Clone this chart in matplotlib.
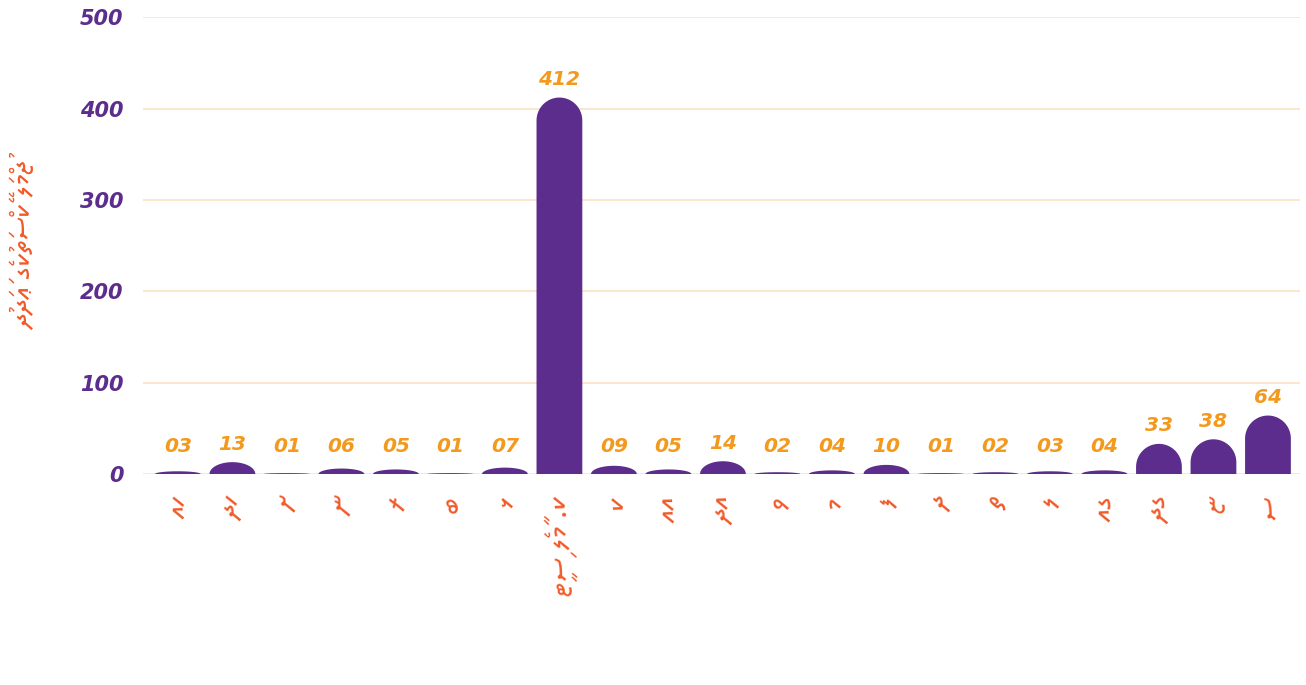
import matplotlib
matplotlib.use("Agg")
import matplotlib.pyplot as plt
from matplotlib.patches import Polygon
import numpy as np

categories = ["ހއ", "ހދ", "ށ", "ނ", "ރ", "ބ", "ޅ", "ކ. މާލެ ސިޓީ", "ކ", "އއ", "އދ",
              "ވ", "މ", "ފ", "ދ", "ތ", "ލ", "ގއ", "ގދ", "ޏ", "ސ"]
values = [3, 13, 1, 6, 5, 1, 7, 412, 9, 5, 14, 2, 4, 10, 1, 2, 3, 4, 33, 38, 64]
value_labels = ["03", "13", "01", "06", "05", "01", "07", "412", "09", "05", "14",
                "02", "04", "10", "01", "02", "03", "04", "33", "38", "64"]
y_ticks = [0, 100, 200, 300, 400, 500]
y_label = "ޖުމްލަ ކޭސްތަކުގެ ޢަދަދު"

THAANA = ["Noto Sans Thaana", "DejaVu Sans"]


def visual_rtl(s):
    """Reverse a Thaana string by grapheme (base + fili) for LTR rendering."""
    clusters = []
    for ch in s:
        if 0x07A6 <= ord(ch) <= 0x07B0 and clusters:
            clusters[-1] += ch
        else:
            clusters.append(ch)
    return "".join(reversed(clusters))


PURPLE = "#5C2D8C"
ORANGE = "#F39A1E"
RED = "#F15A29"
GRID = "#FCE1C2"

fig = plt.figure(figsize=(13.06, 6.85), dpi=100)
ax = fig.add_axes([0.1095, 0.308, 0.886, 0.667])
ax.set_xlim(-0.64, 20.59)
ax.set_ylim(0, 500)
for s in ax.spines.values():
    s.set_visible(False)
ax.set_yticks(y_ticks)
ax.set_yticklabels([str(t) for t in y_ticks], color=PURPLE, fontsize=15,
                   fontweight="bold", fontstyle="italic", family="DejaVu Sans")
ax.tick_params(axis="y", length=0, pad=14)
ax.grid(axis="y", color=GRID, linewidth=1.2)
ax.set_axisbelow(True)

x = np.arange(len(values))
ax.set_xticks(x)
ax.set_xticklabels([visual_rtl(c) for c in categories], rotation=92,
                   rotation_mode="anchor", ha="right", va="center",
                   color=RED, fontsize=22, fontweight="bold", family=THAANA)
ax.tick_params(axis="x", length=0, pad=16)

fig.canvas.draw()
ppu = ax.get_window_extent().height / 500.0
width = 0.84
r_px = 23
for xi, v in zip(x, values):
    ry = min(r_px / ppu, v)
    rx = width / 2
    t = np.linspace(0, np.pi, 40)
    top_pts = np.column_stack([xi + rx * np.cos(t), (v - ry) + ry * np.sin(t)])
    pts = np.vstack([[xi + rx, 0], top_pts, [xi - rx, 0]])
    ax.add_patch(Polygon(pts, closed=True, facecolor=PURPLE, edgecolor="none", zorder=3))

for xi, v, lab in zip(x, values, value_labels):
    ax.annotate(lab, xy=(xi, max(v, 10)), xytext=(0, 13), textcoords="offset points",
                ha="center", va="center", color=ORANGE, fontsize=14.5,
                fontweight="bold", fontstyle="italic", family="DejaVu Sans")

fig.text(0.019, 0.642, visual_rtl(y_label), rotation=90, ha="center", va="center",
         color=RED, fontsize=21, fontweight="bold", family=THAANA)

plt.savefig("out.png", dpi=100)
